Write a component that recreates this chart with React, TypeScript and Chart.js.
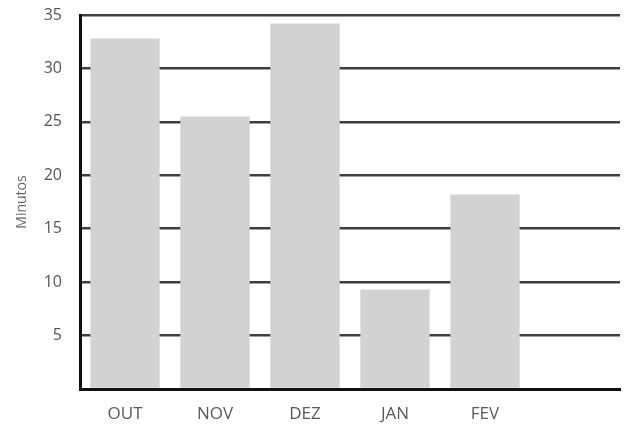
import React, { useEffect, useRef } from "react";
import { Chart, registerables } from "chart.js";

Chart.register(...registerables);

const categories = ["OUT", "NOV", "DEZ", "JAN", "FEV", ""];
const minutes = [32.8, 25.5, 34.2, 9.3, 18.2, null];
const yTicks = [5, 10, 15, 20, 25, 30, 35];

export default function App() {
  const ref = useRef<HTMLCanvasElement | null>(null);

  useEffect(() => {
    document.body.style.margin = "0";
    const ctx = ref.current!.getContext("2d")!;
    const chart = new Chart(ctx, {
      type: "bar",
      data: {
        labels: categories,
        datasets: [
          {
            label: "Minutos",
            data: minutes as any,
            backgroundColor: "#d2d2d2",
            borderWidth: 0,
            barPercentage: 0.77,
            categoryPercentage: 1,
          },
        ],
      },
      options: {
        animation: false,
        responsive: false,
        maintainAspectRatio: false,
        layout: { padding: { top: 15, right: 8, left: 0, bottom: 0 } },
        plugins: { legend: { display: false }, tooltip: { enabled: false } },
        scales: {
          x: {
            grid: { display: false, drawTicks: false },
            border: { display: true, color: "#111", width: 3 },
            ticks: {
              padding: 15,
              color: "#5a5a5a",
              font: { family: "'Open Sans', sans-serif", size: 17 },
            },
            afterFit: (s: any) => {
              s.height = 39;
              s.paddingLeft = 0;
              s.paddingRight = 0;
            },
          },
          y: {
            min: 0,
            max: 35,
            afterBuildTicks: (s: any) => {
              s.ticks = [0, ...yTicks].map((v) => ({ value: v }));
            },
            grid: { color: "#3f3f3f", lineWidth: 2.5, drawTicks: false },
            border: { display: true, color: "#111", width: 3 },
            ticks: {
              padding: 18,
              color: "#555",
              font: { family: "'Open Sans', sans-serif", size: 16 },
              callback: (v: any) => (v === 0 ? "" : String(v)),
            },
            title: {
              display: true,
              text: "Minutos",
              color: "#666",
              font: { family: "'Open Sans', sans-serif", size: 14 },
              padding: { top: 14, bottom: 0 },
            },
            afterFit: (s: any) => {
              s.width = 80;
              s.paddingTop = 0;
              s.paddingBottom = 0;
            },
          },
        },
      },
    });
    return () => chart.destroy();
  }, []);

  return (
    <div style={{ width: 628, height: 428, background: "#fff" }}>
      <canvas ref={ref} width={628} height={428} />
    </div>
  );
}
